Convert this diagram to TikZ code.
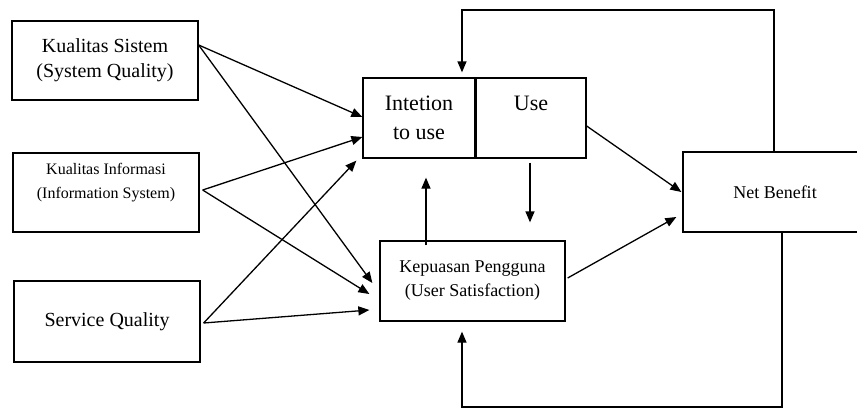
\documentclass[tikz,border=0pt]{standalone}
\usepackage{fontspec}
\setmainfont{Liberation Serif}
\usetikzlibrary{arrows.meta,calc}

\begin{document}
\begin{tikzpicture}[
        x=1pt, y=-1pt,
        box/.style={draw, line width=1.3pt, minimum height=80pt, inner sep=0pt, align=center},
        bigtxt/.style={font=\fontsize{20}{25}\selectfont},
        midtxt/.style={font=\fontsize{18}{24}\selectfont},
        arr/.style={-{Triangle[length=11pt,width=9pt]}, line width=1.3pt}
    ]
    \useasboundingbox (0,0) rectangle (857,408);
    \clip (0,0) rectangle (857,408);

    % Left column (quality constructs)
    \node[box, bigtxt, minimum width=186pt, minimum height=79pt] (sys)  at (105,60.5)  {Kualitas Sistem\\(System Quality)};
    \node[box, minimum width=186pt, minimum height=79pt,
          font=\fontsize{16}{24}\selectfont]                     (info) at (106,192.5) {Kualitas Informasi\\(Information System)\\[-8pt]\strut};
    \node[box, bigtxt, minimum width=186pt, minimum height=81pt] (serv) at (107,321.5) {Service Quality};

    % Middle column
    \node[box, minimum width=112pt, font=\fontsize{22}{29}\selectfont] (int) at (419,118) {Intetion\\to use};
    \node[box, minimum width=110pt, font=\fontsize{22}{29}\selectfont] (use) at (531,118) {Use\\\phantom{to use}};
    \node[box, midtxt, minimum width=185pt] (sat) at (472.5,281) {Kepuasan Pengguna\\(User Satisfaction)};

    % Right column
    \node[box, midtxt, minimum width=184pt] (net) at (775,192) {Net Benefit};

    % ---- Quality -> intention / satisfaction ----
    \draw[arr] ([yshift=15.5pt]sys.east) -- ([yshift=1pt]int.west);
    \draw[arr] ([yshift=15.5pt]sys.east) -- ([xshift=-7pt,yshift=-2pt]sat.west);
    \draw[arr] ([xshift=3pt,yshift=2.5pt]info.east) -- ([yshift=-19pt]int.west);
    \draw[arr] ([xshift=3pt,yshift=2.5pt]info.east) -- ([xshift=-10pt,yshift=-13pt]sat.west);
    \draw[arr] ([xshift=3pt,yshift=-1.5pt]serv.east) -- ([xshift=-6pt,yshift=-2pt]int.south west);
    \draw[arr] ([xshift=3pt,yshift=-1.5pt]serv.east) -- ([xshift=-10pt,yshift=-29pt]sat.west);

    % ---- Use / satisfaction -> net benefit ----
    \draw[arr] ([yshift=-8pt]use.east) -- ([xshift=-1pt]net.west);
    \draw[arr] ([xshift=2pt,yshift=3pt]sat.east) -- ([xshift=-6pt,yshift=-25pt]net.west);
    \draw[arr] ([xshift=-46.5pt,yshift=-5pt]sat.north) -- ([xshift=7pt,yshift=-19pt]int.south);
    \draw[arr] ([xshift=-1pt,yshift=-4pt]use.south) -- ([xshift=57.5pt,yshift=18pt]sat.north);

    % ---- Feedback loops ----
    \coordinate (topturn) at (462,10);
    \coordinate (botturn) at (462,407);
    \draw[arr] ([xshift=-1pt]net.north) |- (topturn) -- ([xshift=43pt,yshift=5pt]int.north);
    \draw[arr] ([xshift=7pt]net.south) |- (botturn) -- ([xshift=-10.5pt,yshift=-10pt]sat.south);
\end{tikzpicture}
\end{document}
